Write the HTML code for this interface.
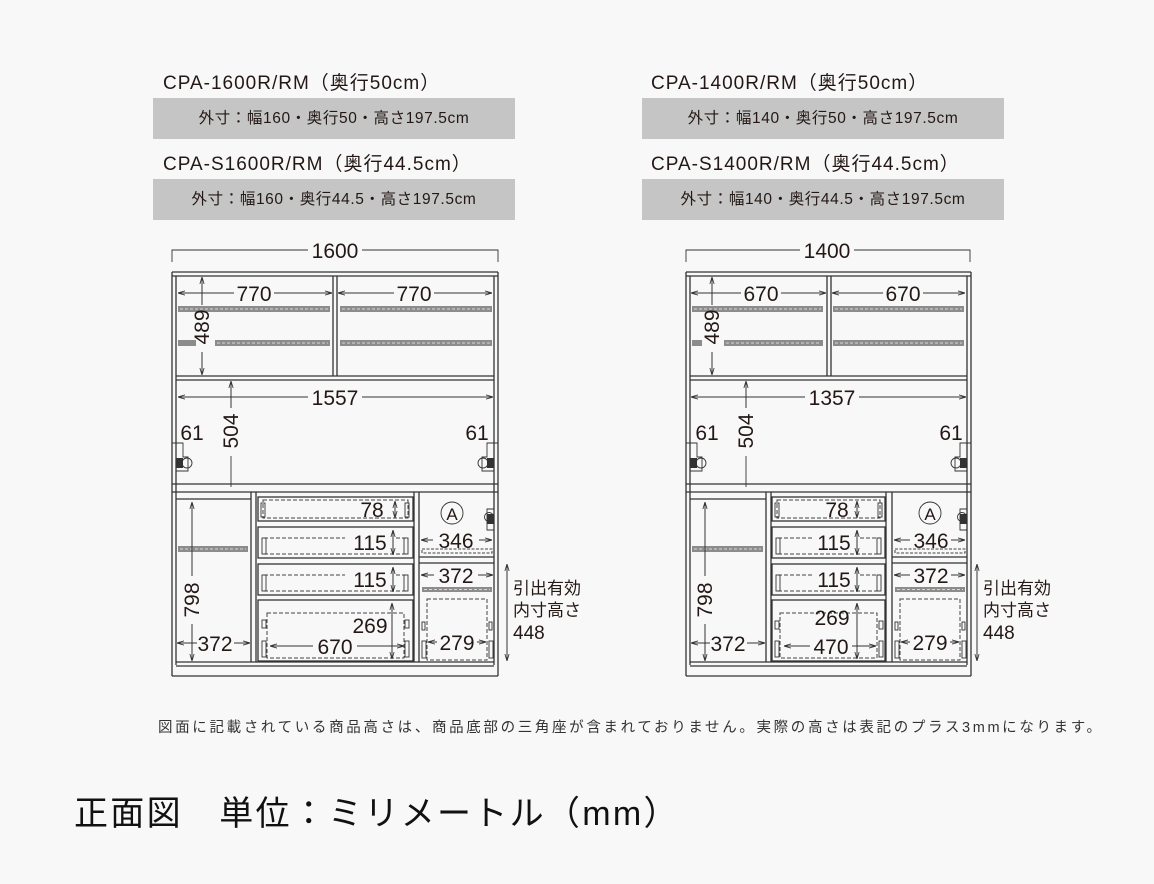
<!DOCTYPE html>
<html><head><meta charset="utf-8"><style>
html,body{margin:0;padding:0;background:#f8f8f8;}
body{width:1154px;height:884px;position:relative;overflow:hidden;font-family:"Liberation Sans","Noto Sans CJK JP",sans-serif;color:#231815;}
.h{position:absolute;font-size:19px;letter-spacing:1px;}
.box{position:absolute;background:#c4c5c4;height:41px;font-size:15.5px;line-height:41px;text-align:center;letter-spacing:0.6px;}
</style></head><body>
<div class="h" style="left:163px;top:68px">CPA-1600R/RM（奥行50cm）</div>
<div class="box" style="left:153px;top:98px;width:362px">外寸：幅160・奥行50・高さ197.5cm</div>
<div class="h" style="left:163px;top:149px">CPA-S1600R/RM（奥行44.5cm）</div>
<div class="box" style="left:153px;top:179px;width:362px">外寸：幅160・奥行44.5・高さ197.5cm</div>
<div class="h" style="left:651px;top:68px">CPA-1400R/RM（奥行50cm）</div>
<div class="box" style="left:642px;top:98px;width:362px">外寸：幅140・奥行50・高さ197.5cm</div>
<div class="h" style="left:651px;top:149px">CPA-S1400R/RM（奥行44.5cm）</div>
<div class="box" style="left:642px;top:179px;width:362px">外寸：幅140・奥行44.5・高さ197.5cm</div>
<div style="position:absolute;left:158px;top:716px;font-size:14.5px;letter-spacing:2.65px;color:#333;white-space:nowrap">図面に記載されている商品高さは、商品底部の三角座が含まれておりません。実際の高さは表記のプラス3mmになります。</div>
<div style="position:absolute;left:74px;top:786px;font-size:34px;letter-spacing:2.3px;color:#111;white-space:nowrap">正面図　単位：ミリメートル（mm）</div>

<svg width="1154" height="884" style="position:absolute;left:0;top:0" xmlns="http://www.w3.org/2000/svg">
<defs>
<marker id="a" viewBox="0 0 10 10" refX="10" refY="5" markerWidth="7" markerHeight="7" orient="auto-start-reverse"><path d="M0,2 L10,5 L0,8" fill="none" stroke="#333" stroke-width="1.2"/></marker>
</defs>
<style>
.l{stroke:#333;stroke-width:1.3;fill:none}
.t{stroke:#333;stroke-width:0.9;fill:none}
.d{stroke:#444;stroke-width:1;fill:none;stroke-dasharray:4 2}
.ar{stroke:#333;stroke-width:1;fill:none;marker-start:url(#a);marker-end:url(#a)}
.a1{stroke:#333;stroke-width:1;fill:none;marker-start:url(#a)}
text{font-family:"Liberation Sans","Noto Sans CJK JP",sans-serif;fill:#231815}
.n{font-size:21px}
.sh{fill:#8c8c8c}
.shd{stroke:#d8d8d8;stroke-width:1;stroke-dasharray:3 2}
</style>

<g>
<path class="t" d="M172,262 V250 H308 M362,250 H498 V262"/>
<text class="n" x="335" y="258" text-anchor="middle">1600</text>
<path class="l" d="M172,272 H498 M172,276 H498 M172,272 V676 M176,276 V665 M494,276 V665 M498,272 V676"/>
<path class="l" d="M333,276 V376 M337,276 V376 M176,376 H494 M176,380 H494"/>
<rect class="sh" x="178" y="306" width="152" height="6"/><line class="shd" x1="180" y1="309" x2="328" y2="309"/>
<rect class="sh" x="340" y="306" width="152" height="6"/><line class="shd" x1="342" y1="309" x2="490" y2="309"/>
<rect class="sh" x="178" y="340" width="18" height="6"/><rect class="sh" x="215" y="340" width="115" height="6"/><line class="shd" x1="217" y1="343" x2="328" y2="343"/>
<rect class="sh" x="340" y="340" width="152" height="6"/><line class="shd" x1="342" y1="343" x2="490" y2="343"/>
<path class="a1" d="M178,293 H234"/><path class="a1" d="M332,293 H274" />
<text class="n" x="254" y="301" text-anchor="middle">770</text>
<path class="a1" d="M338,293 H394"/><path class="a1" d="M492,293 H434"/>
<text class="n" x="414" y="301" text-anchor="middle">770</text>
<path class="a1" d="M202,277 V305"/><path class="a1" d="M202,375 V352"/>
<text class="n" transform="translate(209,327) rotate(-90)" text-anchor="middle">489</text>
<path class="a1" d="M178,397 H308"/><path class="a1" d="M493,397 H362"/>
<text class="n" x="335" y="405" text-anchor="middle">1557</text>
<path class="a1" d="M231,381 V408"/><path class="t" d="M231,456 V487"/>
<text class="n" transform="translate(238,431) rotate(-90)" text-anchor="middle">504</text>
<text class="n" x="192" y="440" text-anchor="middle">61</text>
<text class="n" x="477" y="440" text-anchor="middle">61</text>
<path class="t" d="M172,443 H183 V457 H188 V471 H176"/><rect x="176" y="458" width="7" height="10" fill="#333"/><circle class="t" cx="187" cy="463" r="5"/>
<path class="t" d="M498,443 H487 V457 H482 V471 H494"/><rect x="487" y="458" width="7" height="10" fill="#333"/><circle class="t" cx="483" cy="463" r="5"/>
<path class="l" d="M172,484 H498 M172,492 H498"/>
<path class="l" d="M251,492 V662 M256,492 V662 M414,492 V662 M419,492 V662 M176,499 H251"/>
<path class="l" d="M176,662 H494 M176,666 H494 M172,676 H498"/>
<rect class="sh" x="178" y="546" width="70" height="6"/><line class="shd" x1="180" y1="549" x2="246" y2="549"/>
<path class="a1" d="M192,502 V576"/><path class="a1" d="M192,661 V624"/>
<text class="n" transform="translate(199,600) rotate(-90)" text-anchor="middle">798</text>
<path class="a1" d="M177,643 H197"/><path class="a1" d="M250,643 H234"/>
<text class="n" x="215" y="651" text-anchor="middle">372</text>
<rect class="l" x="258" y="497" width="155" height="24"/>
<rect class="d" x="263" y="500" width="145" height="18"/>
<rect class="t" x="261" y="503" width="4" height="14"/><rect class="t" x="405" y="503" width="4" height="14"/>
<path class="ar" d="M395,501 V518"/>
<text class="n" x="372" y="517" text-anchor="middle">78</text>
<rect class="l" x="258" y="527" width="155" height="31"/>
<path class="d" d="M264,538 H345 M396,538 H408 M264,554 H408"/>
<rect class="t" x="262" y="538" width="4" height="16"/><rect class="t" x="404" y="538" width="4" height="16"/>
<path class="ar" d="M393,530 V555"/>
<text class="n" x="370" y="550" text-anchor="middle">115</text>
<rect class="l" x="258" y="564" width="155" height="31"/>
<path class="d" d="M264,575 H345 M396,575 H408 M264,591 H408"/>
<rect class="t" x="262" y="575" width="4" height="16"/><rect class="t" x="404" y="575" width="4" height="16"/>
<path class="ar" d="M393,567 V592"/>
<text class="n" x="370" y="587" text-anchor="middle">115</text>
<rect class="l" x="258" y="600" width="155" height="61"/>
<rect class="d" x="267" y="613" width="137" height="45"/>
<rect class="t" x="262" y="620" width="4" height="8"/><rect class="t" x="405" y="620" width="4" height="8"/>
<rect class="t" x="262" y="641" width="4" height="16"/><rect class="t" x="405" y="641" width="4" height="16"/>
<path class="ar" d="M392,603 V659"/>
<text class="n" x="370" y="633" text-anchor="middle">269</text>
<path class="a1" d="M270,646 H313"/><path class="a1" d="M404,646 H357"/>
<text class="n" x="335" y="654" text-anchor="middle">670</text>
<circle class="t" cx="452" cy="513" r="11"/><text x="452" y="520" font-size="17" text-anchor="middle">A</text>
<path class="t" d="M494,509 H487 V530 H494"/><rect x="487" y="514" width="7" height="10" fill="#333"/><circle class="t" cx="489" cy="517" r="4.5"/>
<path class="a1" d="M421,540 H433"/><path class="a1" d="M492,540 H479"/>
<text class="n" x="456" y="548" text-anchor="middle">346</text>
<rect class="d" x="422" y="549" width="70" height="4" style="stroke-dasharray:3 1.5"/>
<path class="l" d="M419,557 H494 M419,563 H494"/>
<path class="a1" d="M421,575 H434"/><path class="a1" d="M493,575 H478"/>
<text class="n" x="456" y="583" text-anchor="middle">372</text>
<rect class="sh" x="422" y="587" width="70" height="5"/><line class="shd" x1="424" y1="589.5" x2="490" y2="589.5"/>
<rect class="d" x="427" y="599" width="60" height="61"/>
<rect class="t" x="422" y="622" width="3" height="8"/><rect class="t" x="489" y="622" width="3" height="8"/>
<rect class="t" x="422" y="641" width="4" height="17"/><rect class="t" x="489" y="641" width="4" height="17"/>
<path class="a1" d="M428,642 H437"/><path class="a1" d="M486,642 H477"/>
<text class="n" x="457" y="650" text-anchor="middle">279</text>
<path class="ar" d="M507,564 V661"/>
<text x="513" y="594" font-size="17">引出有効</text>
<text x="513" y="616" font-size="17">内寸高さ</text>
<text x="513" y="639" font-size="19">448</text>
</g>

<g>
<path class="t" d="M686,262 V250 H800 M854,250 H970 V262"/>
<text class="n" x="827" y="258" text-anchor="middle">1400</text>
<path class="l" d="M686,272 H971 M686,276 H971 M686,272 V676 M690,276 V665 M967,276 V665 M971,272 V676"/>
<path class="l" d="M827,276 V376 M831,276 V376 M690,376 H967 M690,380 H967"/>
<rect class="sh" x="692" y="306" width="131" height="6"/><line class="shd" x1="694" y1="309" x2="821" y2="309"/>
<rect class="sh" x="833" y="306" width="131" height="6"/><line class="shd" x1="835" y1="309" x2="962" y2="309"/>
<rect class="sh" x="692" y="340" width="10" height="6"/><rect class="sh" x="724" y="340" width="99" height="6"/><line class="shd" x1="726" y1="343" x2="821" y2="343"/>
<rect class="sh" x="833" y="340" width="131" height="6"/><line class="shd" x1="835" y1="343" x2="962" y2="343"/>
<path class="a1" d="M691,293 H741"/><path class="a1" d="M826,293 H781"/>
<text class="n" x="761" y="301" text-anchor="middle">670</text>
<path class="a1" d="M832,293 H883"/><path class="a1" d="M965,293 H923"/>
<text class="n" x="903" y="301" text-anchor="middle">670</text>
<path class="a1" d="M712,277 V305"/><path class="a1" d="M712,375 V352"/>
<text class="n" transform="translate(719,327) rotate(-90)" text-anchor="middle">489</text>
<path class="a1" d="M691,397 H805"/><path class="a1" d="M966,397 H859"/>
<text class="n" x="832" y="405" text-anchor="middle">1357</text>
<path class="a1" d="M746,381 V408"/><path class="t" d="M746,456 V487"/>
<text class="n" transform="translate(753,431) rotate(-90)" text-anchor="middle">504</text>
<text class="n" x="707" y="440" text-anchor="middle">61</text>
<text class="n" x="951" y="440" text-anchor="middle">61</text>
<path class="t" d="M686,443 H697 V457 H702 V471 H690"/><rect x="690" y="458" width="7" height="10" fill="#333"/><circle class="t" cx="701" cy="463" r="5"/>
<path class="t" d="M971,443 H960 V457 H955 V471 H967"/><rect x="960" y="458" width="7" height="10" fill="#333"/><circle class="t" cx="956" cy="463" r="5"/>
<path class="l" d="M686,484 H971 M686,492 H971"/>
<path class="l" d="M766,492 V662 M771,492 V662 M886,492 V662 M892,492 V662 M690,499 H766"/>
<path class="l" d="M690,662 H967 M690,666 H967 M686,676 H971"/>
<rect class="sh" x="692" y="546" width="71" height="6"/><line class="shd" x1="694" y1="549" x2="761" y2="549"/>
<path class="a1" d="M705,502 V576"/><path class="a1" d="M705,661 V624"/>
<text class="n" transform="translate(712,600) rotate(-90)" text-anchor="middle">798</text>
<path class="a1" d="M691,643 H710"/><path class="a1" d="M765,643 H747"/>
<text class="n" x="728" y="651" text-anchor="middle">372</text>
<rect class="l" x="772" y="497" width="113" height="24"/>
<rect class="d" x="777" y="500" width="103" height="18"/>
<rect class="t" x="775" y="503" width="4" height="14"/><rect class="t" x="878" y="503" width="4" height="14"/>
<path class="ar" d="M857,501 V518"/>
<text class="n" x="837" y="517" text-anchor="middle">78</text>
<rect class="l" x="772" y="527" width="113" height="31"/>
<path class="d" d="M778,538 H812 M860,538 H880 M778,554 H880"/>
<rect class="t" x="776" y="538" width="4" height="16"/><rect class="t" x="877" y="538" width="4" height="16"/>
<path class="ar" d="M857,530 V555"/>
<text class="n" x="834" y="550" text-anchor="middle">115</text>
<rect class="l" x="772" y="564" width="113" height="31"/>
<path class="d" d="M778,575 H812 M860,575 H880 M778,591 H880"/>
<rect class="t" x="776" y="575" width="4" height="16"/><rect class="t" x="877" y="575" width="4" height="16"/>
<path class="ar" d="M857,567 V592"/>
<text class="n" x="834" y="587" text-anchor="middle">115</text>
<rect class="l" x="772" y="600" width="113" height="61"/>
<rect class="d" x="780" y="613" width="97" height="45"/>
<rect class="t" x="775" y="621" width="4" height="8"/><rect class="t" x="879" y="621" width="4" height="8"/>
<rect class="t" x="775" y="641" width="4" height="16"/><rect class="t" x="879" y="641" width="4" height="16"/>
<path class="ar" d="M857,603 V659"/>
<text class="n" x="832" y="625" text-anchor="middle">269</text>
<path class="a1" d="M784,646 H810"/><path class="a1" d="M876,646 H852"/>
<text class="n" x="831" y="654" text-anchor="middle">470</text>
<circle class="t" cx="930" cy="513" r="11"/><text x="930" y="520" font-size="17" text-anchor="middle">A</text>
<path class="t" d="M967,509 H960 V530 H967"/><rect x="960" y="514" width="7" height="10" fill="#333"/><circle class="t" cx="962" cy="517" r="4.5"/>
<path class="a1" d="M894,540 H910"/><path class="a1" d="M965,540 H951"/>
<text class="n" x="931" y="548" text-anchor="middle">346</text>
<rect class="d" x="895" y="549" width="70" height="4" style="stroke-dasharray:3 1.5"/>
<path class="l" d="M892,557 H967 M892,563 H967"/>
<path class="a1" d="M894,575 H910"/><path class="a1" d="M965,575 H951"/>
<text class="n" x="931" y="583" text-anchor="middle">372</text>
<rect class="sh" x="895" y="587" width="70" height="5"/><line class="shd" x1="897" y1="589.5" x2="963" y2="589.5"/>
<rect class="d" x="900" y="599" width="60" height="61"/>
<rect class="t" x="895" y="622" width="3" height="8"/><rect class="t" x="962" y="622" width="3" height="8"/>
<rect class="t" x="895" y="641" width="4" height="17"/><rect class="t" x="962" y="641" width="4" height="17"/>
<path class="a1" d="M901,642 H910"/><path class="a1" d="M959,642 H950"/>
<text class="n" x="930" y="650" text-anchor="middle">279</text>
<path class="ar" d="M977,564 V661"/>
<text x="983" y="594" font-size="17">引出有効</text>
<text x="983" y="616" font-size="17">内寸高さ</text>
<text x="983" y="639" font-size="19">448</text>
</g>
</svg>
</body></html>
